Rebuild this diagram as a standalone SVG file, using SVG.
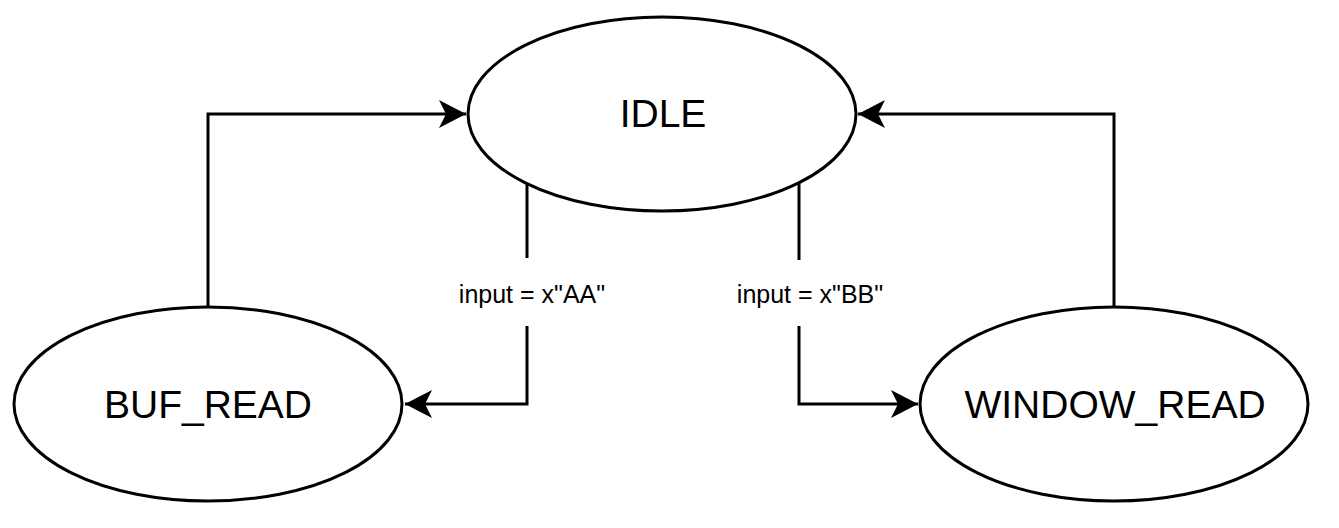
<svg xmlns="http://www.w3.org/2000/svg" width="1339" height="528" viewBox="0 0 1339 528">
<style>
.node{fill:#fff;stroke:#000;stroke-width:3}
.edge{fill:none;stroke:#000;stroke-width:3}
.nt{font-family:"Liberation Sans",Arial,sans-serif;font-size:39px;fill:#000;text-anchor:middle}
.lt{font-family:"Liberation Sans",Arial,sans-serif;font-size:25px;fill:#000;text-anchor:middle}
.lbg{fill:#fff;stroke:none}
</style>
<defs>
<marker id="arr" markerUnits="userSpaceOnUse" markerWidth="30" markerHeight="30" viewBox="-28 -15 30 30" refX="0" refY="0" orient="auto">
<path d="M0,0 L-27,-14 L-20,0 L-27,14 Z" fill="#000"/>
</marker>
</defs>
<rect width="1339" height="528" fill="#fff"/>
<g id="connectors">
<path class="edge" d="M208,307 L208,114 L466,114" marker-end="url(#arr)"/>
<path class="edge" d="M1114,307 L1114,114 L858,114" marker-end="url(#arr)"/>
<path class="edge" d="M527,183 L527,404 L405,404" marker-end="url(#arr)"/>
<path class="edge" d="M799,183 L799,404 L918,404" marker-end="url(#arr)"/>
<g id="label-aa">
<rect class="lbg" x="452" y="258" width="160" height="68"/>
<text class="lt" x="532" y="303">input = x"AA"</text>
</g>
<g id="label-bb">
<rect class="lbg" x="730" y="260" width="160" height="66"/>
<text class="lt" x="810" y="303">input = x"BB"</text>
</g>
</g>
<g id="idle">
<ellipse class="node" cx="662" cy="114" rx="194" ry="97"/>
<text class="nt" x="663" y="127">IDLE</text>
</g>
<g id="buf_read">
<ellipse class="node" cx="208" cy="404" rx="194" ry="97"/>
<text class="nt" x="208" y="418">BUF_READ</text>
</g>
<g id="window_read">
<ellipse class="node" cx="1114" cy="404" rx="194" ry="97"/>
<text class="nt" x="1115" y="418">WINDOW_READ</text>
</g>
</svg>
